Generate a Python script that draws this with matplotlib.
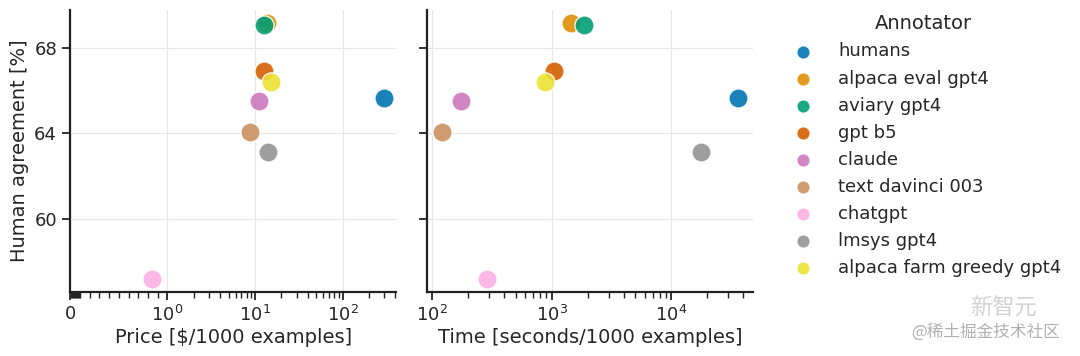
import matplotlib
matplotlib.use("Agg")
import matplotlib.pyplot as plt
from matplotlib.ticker import FixedLocator
import seaborn as sns
import numpy as np

# values
annotators = ["humans", "alpaca eval gpt4", "aviary gpt4", "gpt b5", "claude",
              "text davinci 003", "chatgpt", "lmsys gpt4", "alpaca farm greedy gpt4"]
price = [300, 13.7, 12.7, 12.6, 11.1, 8.8, 0.84, 14.1, 15.3]
seconds = [36000, 1440, 1880, 1040, 174, 121, 287, 17800, 875]
agreement = [65.66, 69.17, 69.07, 66.93, 65.52, 64.07, 57.2, 63.14, 66.41]

sns.set_theme(style="ticks", font_scale=1.0)
plt.rcParams["font.family"] = ["DejaVu Sans"]
colors = sns.color_palette("colorblind", len(annotators))

fig, (ax1, ax2) = plt.subplots(1, 2, sharey=True, figsize=(10.8, 3.56), dpi=100)
fig.subplots_adjust(left=0.065, right=0.697, top=0.972, bottom=0.18, wspace=0.095)

ax1.set_xscale("symlog", linthresh=1)
ax2.set_xscale("log")

for ax, xs in [(ax1, price), (ax2, seconds)]:
    for name, x, y, c in zip(annotators, xs, agreement, colors):
        ax.scatter(x, y, s=190, color=c, alpha=0.9, edgecolor="white",
                   linewidth=1, label=name, zorder=3)
    ax.grid(True, color="#e6e6e6", linewidth=0.8, zorder=0)
    for sp in ["left", "bottom"]:
        ax.spines[sp].set_linewidth(1.6)
        ax.spines[sp].set_color("#222222")
    ax.tick_params(axis="both", which="major", labelsize=13, length=6, width=1.3, color="#222222")
    ax.tick_params(axis="both", which="minor", length=4, width=1.0, color="#222222")
    sns.despine(ax=ax)

# symlog: keep autoscaled right edge, pin left edge at zero
ax1.autoscale_view()
right = ax1.get_xlim()[1]
ax1.set_xlim(0, right)
minors = [m * 10.0 ** k for k in range(-2, 3) for m in range(1, 10) if m * 10.0 ** k < right]
ax1.xaxis.set_minor_locator(FixedLocator(minors))

ax1.set_yticks([60, 64, 68])
ax1.set_ylabel("Human agreement [%]", fontsize=14)
ax1.set_xlabel("Price [$/1000 examples]", fontsize=14, labelpad=2)
ax2.set_xlabel("Time [seconds/1000 examples]", fontsize=14, labelpad=2)

handles, labels = ax1.get_legend_handles_labels()
leg = fig.legend(handles, labels, title="Annotator", loc="upper left",
                 bbox_to_anchor=(0.712, 1.005), frameon=False, fontsize=13,
                 title_fontsize=14, handletextpad=0.95, labelspacing=0.5, markerscale=0.7)

# watermark of the source image
fig.text(1003 / 1080, 0.135, "新智元", fontsize=16, color="#d2d2d2",
         family=["Noto Sans CJK SC", "DejaVu Sans"], ha="center", va="center")
fig.text(986 / 1080, 0.067, "@稀土掘金技术社区", fontsize=12, color="#b0b0b0",
         family=["Noto Sans CJK SC", "DejaVu Sans"], ha="center", va="center")

fig.savefig("out.png", dpi=100)
